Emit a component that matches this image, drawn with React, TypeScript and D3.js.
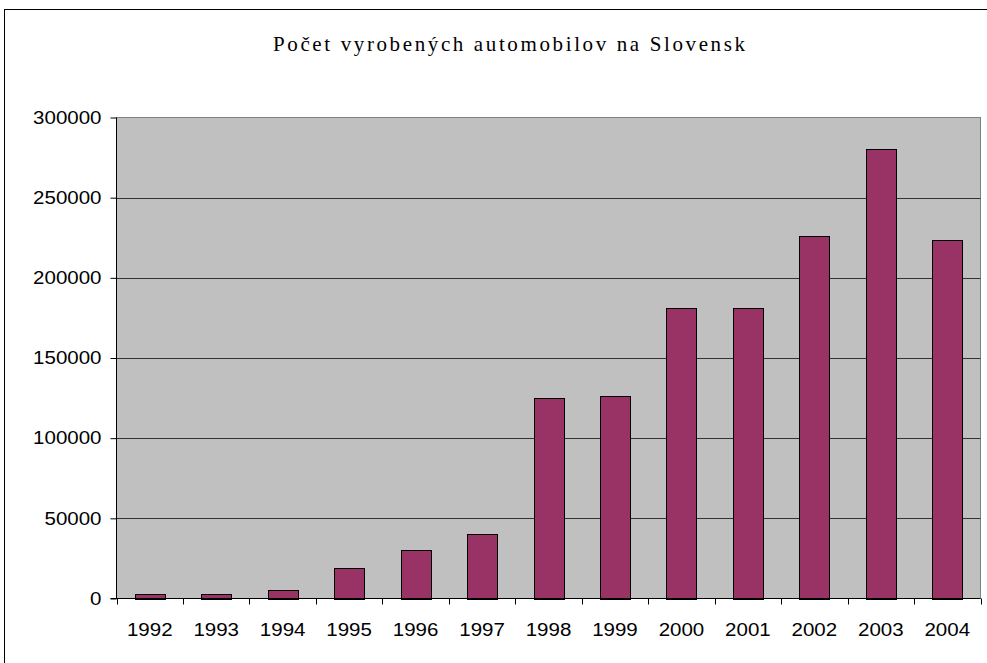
import React, { useEffect, useRef } from "react";
import * as d3 from "d3";

const years = ["1992", "1993", "1994", "1995", "1996", "1997", "1998", "1999", "2000", "2001", "2002", "2003", "2004"];
const production = [3000, 3000, 5400, 19200, 30400, 40000, 125000, 126200, 181300, 181300, 226000, 280400, 223500];
const yTicks = [0, 50000, 100000, 150000, 200000, 250000, 300000];
const title = "Počet vyrobených automobilov na Slovensk";

const App = () => {
  const svgRef = useRef<SVGSVGElement>(null);

  useEffect(() => {
    const svg = d3.select(svgRef.current);
    svg.selectAll("*").remove();

    const W = 987;
    const H = 663;
    const plot = { left: 116.5, right: 980.5, top: 117.5, bottom: 598.5 };
    const font = "'Liberation Sans', Arial, sans-serif";
    const digitW = 11.4;

    svg.attr("width", W).attr("height", H);

    // outer chart frame
    svg
      .append("rect")
      .attr("x", 4.5)
      .attr("y", 9.5)
      .attr("width", 1000)
      .attr("height", 700)
      .attr("fill", "white")
      .attr("stroke", "black");

    svg
      .append("text")
      .attr("x", 509)
      .attr("y", 51)
      .attr("text-anchor", "middle")
      .attr("font-family", "'Liberation Serif', 'Times New Roman', serif")
      .attr("font-size", "21px")
      .attr("textLength", 472)
      .attr("lengthAdjust", "spacing")
      .text(title);

    const x = d3
      .scaleBand()
      .domain(years)
      .range([plot.left, plot.right])
      .paddingInner(0.55)
      .paddingOuter(0.275);

    const y = d3.scaleLinear().domain([0, 300000]).range([plot.bottom, plot.top]);

    // plot background
    svg
      .append("rect")
      .attr("x", plot.left)
      .attr("y", plot.top)
      .attr("width", plot.right - plot.left)
      .attr("height", plot.bottom - plot.top)
      .attr("fill", "#c0c0c0")
      .attr("stroke", "#808080");

    // gridlines
    svg
      .selectAll(".grid")
      .data(yTicks.slice(1, -1))
      .enter()
      .append("line")
      .attr("class", "grid")
      .attr("x1", plot.left)
      .attr("x2", plot.right)
      .attr("y1", (d) => Math.round(y(d)) + 0.5)
      .attr("y2", (d) => Math.round(y(d)) + 0.5)
      .attr("stroke", "#333")
      .attr("stroke-width", 1);

    // bars
    svg
      .selectAll(".bar")
      .data(production)
      .enter()
      .append("rect")
      .attr("class", "bar")
      .attr("x", (d, i) => Math.round(x(years[i])!) + 0.5)
      .attr("y", (d) => Math.round(y(d)) + 0.5)
      .attr("width", Math.round(x.bandwidth()))
      .attr("height", (d) => Math.round(plot.bottom) - Math.round(y(d)))
      .attr("fill", "#993366")
      .attr("stroke", "black")
      .attr("stroke-width", 1);

    // y axis
    const yAxis = svg
      .append("g")
      .attr("transform", `translate(${plot.left},0)`)
      .call(d3.axisLeft(y).tickValues(yTicks).tickSize(6).tickPadding(9).tickFormat(d3.format("d")));
    yAxis.select(".domain").attr("stroke", "black").attr("d", `M-0,${plot.top}V${plot.bottom}`);
    yAxis
      .selectAll<SVGTextElement, number>("text")
      .attr("font-family", font)
      .attr("font-size", "18px")
      .attr("fill", "black")
      .attr("textLength", (d) => String(d).length * digitW)
      .attr("lengthAdjust", "spacingAndGlyphs");

    // x axis
    const xAxis = svg
      .append("g")
      .attr("transform", `translate(0,${plot.bottom})`)
      .call(d3.axisBottom(x).tickSize(0).tickPadding(25));
    xAxis.select(".domain").attr("stroke", "black").attr("d", `M${plot.left - 6},0H${plot.right}`);
    xAxis
      .selectAll<SVGTextElement, string>("text")
      .attr("font-family", font)
      .attr("font-size", "18px")
      .attr("fill", "black")
      .attr("textLength", (d) => d.length * digitW)
      .attr("lengthAdjust", "spacingAndGlyphs");

    // category separator ticks
    const step = x.step();
    const bounds = d3.range(years.length + 1).map((i) => x(years[0])! - (x.paddingInner() * step) / 2 + i * step);
    svg
      .selectAll(".xtick")
      .data(bounds)
      .enter()
      .append("line")
      .attr("class", "xtick")
      .attr("x1", (d) => Math.round(d) + 0.5)
      .attr("x2", (d) => Math.round(d) + 0.5)
      .attr("y1", plot.bottom)
      .attr("y2", plot.bottom + 6)
      .attr("stroke", "black");
  }, []);

  return (
    <div style={{ position: "absolute", left: 0, top: 0 }}>
      <svg ref={svgRef}></svg>
    </div>
  );
};

export default App;
